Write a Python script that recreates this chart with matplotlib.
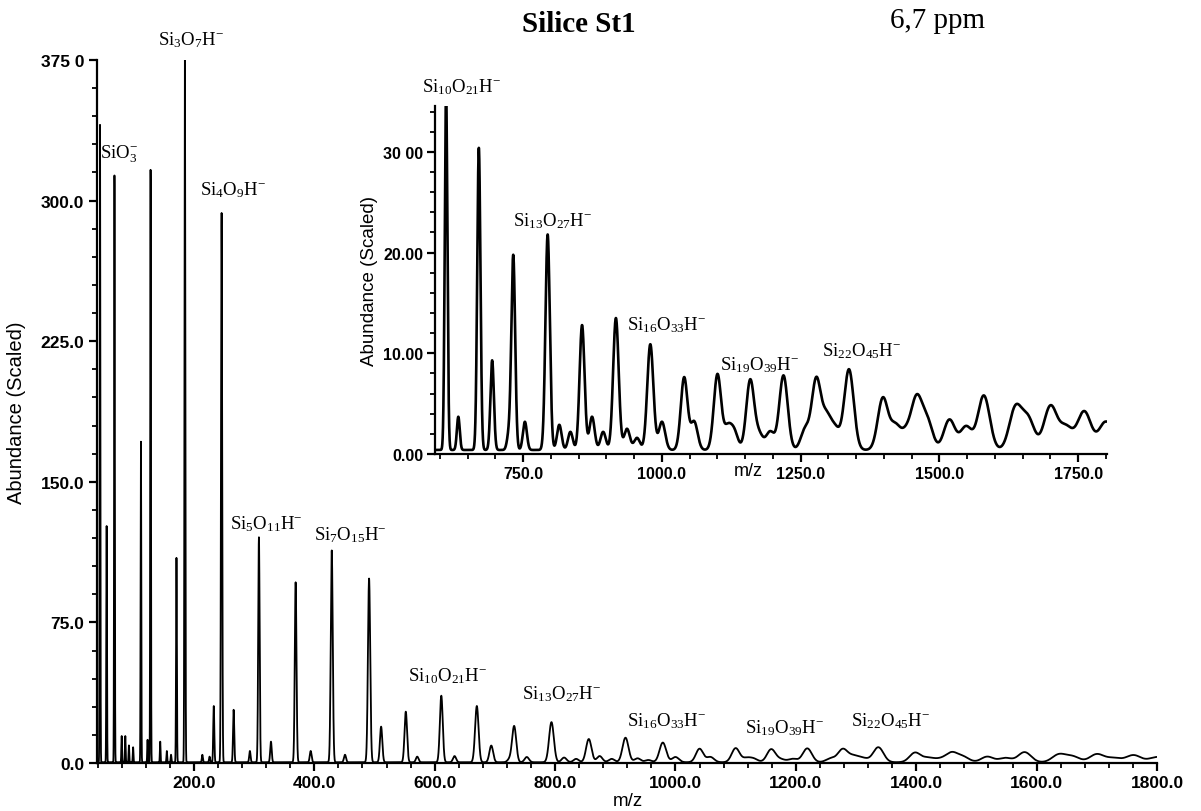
import numpy as np
import matplotlib
matplotlib.use('Agg')
import matplotlib.pyplot as plt
from matplotlib.ticker import FixedLocator, FixedFormatter, MultipleLocator

plt.rcParams['mathtext.fontset'] = 'custom'
plt.rcParams['mathtext.rm'] = 'Liberation Serif'
plt.rcParams['mathtext.it'] = 'Liberation Serif:italic'
plt.rcParams['mathtext.bf'] = 'Liberation Serif:bold'

# ---- data ----
# main cluster series Si(n)O(2n+1)H-  : m/z and abundance (scaled)
series_mz = [68, 128, 185, 246, 308, 369, 429, 491, 552, 611, 670, 732, 794, 856,
             917, 979, 1040, 1100, 1159, 1219, 1278, 1337, 1398, 1459, 1518, 1580,
             1637, 1700, 1761]
series_abund = [313, 316, 375, 293, 120, 96, 113, 98, 27, 35.5, 30, 19.3, 21.4, 12.4,
                13.1, 10.5, 7.2, 7.5, 6.9, 7.4, 6.9, 8.0, 5.1, 4.9, 3.0, 5.4,
                4.1, 4.3, 3.8]
# secondary / minor peaks
minor_mz = [44, 55, 80, 86, 92, 99, 112, 123, 144, 155, 162, 171, 214, 226, 233, 266,
            293, 328, 394, 451, 511, 571, 633, 694, 724, 753, 815, 835, 874, 894, 937,
            955, 1000, 1058, 1118, 1130, 1175, 1195, 1258, 1296, 1312, 1420, 1440, 1478,
            1548, 1660, 1728, 1800]
minor_abund = [340, 126, 14, 14, 9, 8, 171, 12, 11, 6, 4, 109, 4, 3, 30, 28,
               6, 11, 6, 4, 19, 3, 3.3, 8.9, 1.5, 2.8, 2.5, 1.8, 3.3, 1.8, 2.1,
               1.2, 2.8, 2.8, 2.1, 1.8, 1.5, 1.8, 2.0, 3.1, 2.0, 2.3, 1.6, 2.8,
               2.3, 3.0, 2.2, 2.8]
baseline = 0.4

main_xticks = [200, 400, 600, 800, 1000, 1200, 1400, 1600, 1800]
main_xlabels = ['200.0', '400.0', '600.0', '800.0', '1000.0', '1200.0', '1400.0', '1600.0', '1800.0']
main_yticks = [0, 75, 150, 225, 300, 375]
main_ylabels = ['0.0', '75.0', '150.0', '225.0', '300.0', '375 0']
inset_xticks = [750, 1000, 1250, 1500, 1750]
inset_xlabels = ['750.0', '1000.0', '1250.0', '1500.0', '1750.0']
inset_yticks = [0, 10, 20, 30]
inset_ylabels = ['0.00', '10.00', '20.00', '30 00']

main_labels = [
    (r'SiO$_3^{-}$', 44, 325),
    (r'Si$_3$O$_7$H$^{-}$', 140, 386),
    (r'Si$_4$O$_9$H$^{-}$', 210, 306),
    (r'Si$_5$O$_{11}$H$^{-}$', 260, 128),
    (r'Si$_7$O$_{15}$H$^{-}$', 399, 122),
    (r'Si$_{10}$O$_{21}$H$^{-}$', 555, 47),
    (r'Si$_{13}$O$_{27}$H$^{-}$', 745, 37),
    (r'Si$_{16}$O$_{33}$H$^{-}$', 920, 23),
    (r'Si$_{19}$O$_{39}$H$^{-}$', 1115, 19),
    (r'Si$_{22}$O$_{45}$H$^{-}$', 1291, 23),
]
inset_labels = [
    (r'Si$_{10}$O$_{21}$H$^{-}$', 568, 36.5),
    (r'Si$_{13}$O$_{27}$H$^{-}$', 732, 23.2),
    (r'Si$_{16}$O$_{33}$H$^{-}$', 937, 12.9),
    (r'Si$_{19}$O$_{39}$H$^{-}$', 1105, 8.9),
    (r'Si$_{22}$O$_{45}$H$^{-}$', 1289, 10.3),
]

# ---- build the spectrum profile from the peak list ----
mz = np.arange(39.0, 1800.01, 0.1)
centers = np.array(series_mz + minor_mz, dtype=float)
heights = np.array(series_abund + minor_abund, dtype=float)
fwhm = np.where(centers < 600, np.maximum(1.3, 0.009 * centers), 5.4 + (centers - 600) * 0.02)
sig = fwhm / 2.3548
spec = np.full_like(mz, baseline)
for c, h, s in zip(centers, heights, sig):
    spec += h * np.exp(-0.5 * ((mz - c) / s) ** 2)

# ---- figure ----
fig = plt.figure(figsize=(12.01, 8.12), dpi=100)
W, H = 1201, 812

def axes_px(l, r, t, b):
    return [l / W, 1 - b / H, (r - l) / W, (b - t) / H]

ax = fig.add_axes(axes_px(97, 1157, 61, 764))
ax.plot(mz, spec, color='black', lw=1.3)
ax.set_xlim(39, 1800)
ax.set_ylim(0, 375)
for sp in ['top', 'right']:
    ax.spines[sp].set_visible(False)
for sp in ['left', 'bottom']:
    ax.spines[sp].set_linewidth(1.6)
ax.xaxis.set_major_locator(FixedLocator(main_xticks))
ax.xaxis.set_major_formatter(FixedFormatter(main_xlabels))
ax.xaxis.set_minor_locator(MultipleLocator(40))
ax.yaxis.set_major_locator(FixedLocator(main_yticks))
ax.yaxis.set_major_formatter(FixedFormatter(main_ylabels))
ax.yaxis.set_minor_locator(MultipleLocator(15))
ax.tick_params(which='major', direction='out', length=6, width=1.6, pad=3, labelsize=12.5)
ax.tick_params(which='minor', direction='out', length=3.5, width=1.3)
for lab in ax.get_xticklabels() + ax.get_yticklabels():
    lab.set_fontfamily('Liberation Sans')
    lab.set_fontweight('bold')
ax.set_ylabel('Abundance (Scaled)', fontsize=14.5, fontfamily='Liberation Sans')
ax.yaxis.set_label_coords((26 - 97) / 1060, 0.5)
ax.set_xlabel('m/z', fontsize=13.5, fontfamily='Liberation Sans')
ax.xaxis.set_label_coords((628 - 97) / 1060, (764 - 793) / 703)
for txt, x, y in main_labels:
    ax.text(x, y, txt, fontsize=13.5, fontfamily='Liberation Serif', ha='left', va='center', clip_on=False)

# inset
ai = fig.add_axes(axes_px(435, 1107, 107, 455))
ai.plot(mz, spec, color='black', lw=1.9)
ai.set_xlim(591, 1802)
ai.set_ylim(0, 34.56)
for sp in ['top', 'right']:
    ai.spines[sp].set_visible(False)
for sp in ['left', 'bottom']:
    ai.spines[sp].set_linewidth(1.6)
ai.xaxis.set_major_locator(FixedLocator(inset_xticks))
ai.xaxis.set_major_formatter(FixedFormatter(inset_xlabels))
ai.xaxis.set_minor_locator(MultipleLocator(50))
ai.yaxis.set_major_locator(FixedLocator(inset_yticks))
ai.yaxis.set_major_formatter(FixedFormatter(inset_ylabels))
ai.yaxis.set_minor_locator(MultipleLocator(2))
ai.tick_params(which='major', direction='out', length=6, width=1.6, pad=2.5, labelsize=11.5)
ai.tick_params(which='minor', direction='out', length=3.5, width=1.3)
for lab in ai.get_xticklabels() + ai.get_yticklabels():
    lab.set_fontfamily('Liberation Sans')
    lab.set_fontweight('bold')
ai.set_ylabel('Abundance (Scaled)', fontsize=13.5, fontfamily='Liberation Sans')
ai.yaxis.set_label_coords((378 - 435) / 672, 0.5)
ai.set_xlabel('m/z', fontsize=13, fontfamily='Liberation Sans')
ai.xaxis.set_label_coords((748 - 435) / 672, (455 - 463) / 348)
for txt, x, y in inset_labels:
    ai.text(x, y, txt, fontsize=13.5, fontfamily='Liberation Serif', ha='left', va='center', clip_on=False)

fig.text(579 / W, 1 - 25 / H, 'Silice St1', fontsize=21, fontweight='bold',
         fontfamily='Liberation Serif', ha='center', va='center')
fig.text(938 / W, 1 - 21 / H, '6,7 ppm', fontsize=21,
         fontfamily='Liberation Serif', ha='center', va='center')

fig.savefig('out.png', dpi=100)
